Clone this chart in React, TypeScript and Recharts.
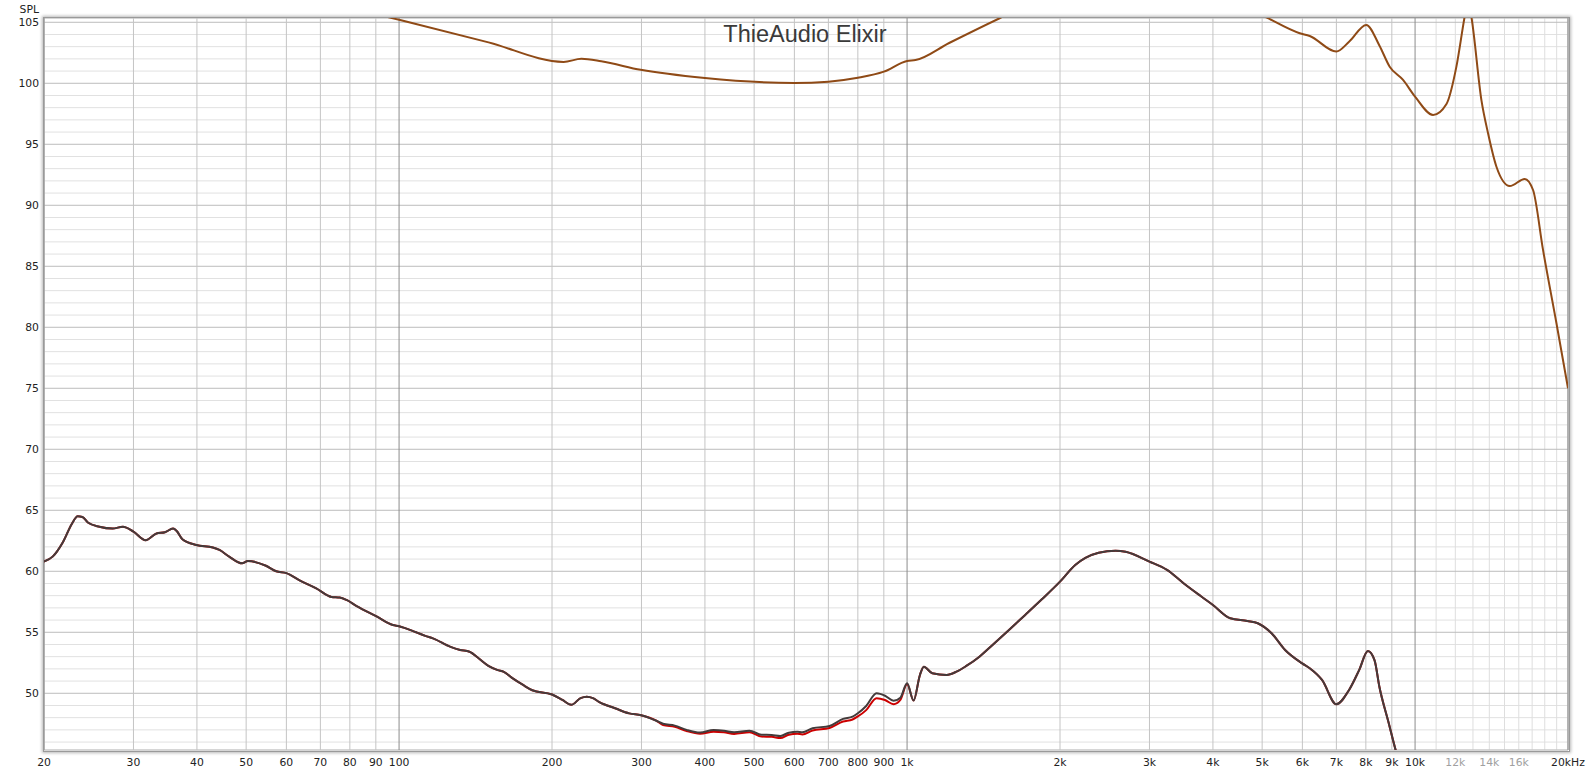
import React from 'react';
import { LineChart, Line, XAxis, YAxis, CartesianGrid } from 'recharts';

// ---- Measured response (dark) and second channel (red) ----
const measFreq = [
  20, 20.8, 21.8, 22.7, 23.3, 23.8, 24.4, 25.7, 27.3, 28.6,
  30, 31.7, 33.3, 34.6, 35.9, 36.5, 37.5, 39.9, 43, 44.3,
  46.3, 49.1, 50.4, 54.7, 57.3, 60, 63.7, 68.7, 73.6, 76.4,
  78.8, 82.5, 90.3, 97.2, 100, 108, 112.6, 116.6, 126.3, 131.9,
  137.6, 143.6, 149.9, 156.4, 160.8, 167.7, 175.1, 182.9, 200, 209.7,
  218.2, 227.6, 234.2, 240.8, 247.4, 267, 283.8, 299.5, 320.9, 330.8,
  348.9, 368.2, 391.4, 416, 436, 456.6, 489.5, 516.9, 541.5, 562.8,
  585, 608, 622, 651.5, 703.5, 748, 781, 800, 830.8, 870.5,
  904.8, 940.6, 970, 1000, 1030, 1060, 1079, 1121, 1196, 1251,
  1308, 1388, 1473, 1587, 1708, 1842, 2000, 2143, 2244, 2383,
  2572, 2692, 3000, 3248, 3506, 3784, 4000, 4327, 4676, 4901,
  5218, 5548, 5995, 6203, 6559, 7000, 7414, 7760, 8075, 8323,
  8506, 8860, 9156, 9600, 10500,
];

const darkSpl = [
  60.8, 61.2, 62.4, 63.9, 64.5, 64.45, 64.0, 63.65, 63.5, 63.65,
  63.25, 62.55, 63.1, 63.2, 63.5, 63.3, 62.6, 62.15, 61.95, 61.75,
  61.2, 60.65, 60.85, 60.45, 60.0, 59.85, 59.25, 58.6, 57.9, 57.85,
  57.65, 57.15, 56.3, 55.6, 55.5, 55.0, 54.7, 54.5, 53.8, 53.55,
  53.4, 52.85, 52.25, 51.9, 51.75, 51.2, 50.7, 50.25, 49.9, 49.45,
  49.05, 49.6, 49.72, 49.6, 49.3, 48.75, 48.35, 48.2, 47.75, 47.5,
  47.35, 47.0, 46.78, 46.98, 46.93, 46.8, 46.93, 46.6, 46.58, 46.5,
  46.77, 46.85, 46.8, 47.13, 47.32, 47.9, 48.08, 48.36, 48.96, 50.0,
  49.8, 49.39, 49.64, 50.82, 49.4, 51.5, 52.18, 51.64, 51.5, 51.77,
  52.24, 53.0, 53.96, 55.19, 56.42, 57.7, 59.15, 60.52, 61.1, 61.52,
  61.69, 61.6, 60.79, 60.11, 59.0, 57.97, 57.24, 56.15, 55.93, 55.74,
  54.92, 53.55, 52.45, 52.05, 51.09, 49.1, 50.27, 51.9, 53.47, 52.7,
  50.54, 47.67, 45.35, 42.5, 38,
];

const redSpl = [
  60.8, 61.2, 62.4, 63.9, 64.5, 64.45, 64.0, 63.65, 63.5, 63.65,
  63.25, 62.55, 63.1, 63.2, 63.5, 63.3, 62.6, 62.15, 61.95, 61.75,
  61.2, 60.65, 60.85, 60.45, 60.0, 59.85, 59.25, 58.6, 57.9, 57.85,
  57.65, 57.15, 56.3, 55.6, 55.5, 55.0, 54.7, 54.5, 53.8, 53.55,
  53.4, 52.85, 52.25, 51.9, 51.75, 51.2, 50.7, 50.25, 49.9, 49.45,
  49.05, 49.6, 49.72, 49.6, 49.3, 48.75, 48.35, 48.2, 47.75, 47.4,
  47.25, 46.9, 46.68, 46.85, 46.8, 46.67, 46.8, 46.45, 46.43, 46.33,
  46.6, 46.68, 46.63, 46.95, 47.15, 47.68, 47.85, 48.1, 48.62, 49.6,
  49.45, 49.1, 49.45, 50.75, 49.4, 51.5, 52.18, 51.64, 51.5, 51.77,
  52.24, 53.0, 53.96, 55.19, 56.42, 57.7, 59.15, 60.52, 61.1, 61.52,
  61.69, 61.6, 60.79, 60.11, 59.0, 57.97, 57.24, 56.15, 55.93, 55.74,
  54.92, 53.55, 52.45, 52.05, 51.09, 49.1, 50.27, 51.9, 53.47, 52.7,
  50.54, 47.67, 45.35, 42.5, 38,
];

// ---- Brown (upper) curve ----
const targetFreq = [
  20, 50, 100, 150, 210.8, 228.5, 250, 299, 400, 600,
  700, 800, 900, 1000, 1039, 1210, 1521, 2000, 3000, 4000,
  5096, 5928, 6203, 6998, 7414, 8016, 8506, 8913, 9469, 10000,
  10850, 11530, 12060, 12525, 12700, 12900, 13510, 13920, 14460, 15360,
  16440, 17070, 17860, 18980, 20000,
];
const targetSpl = [
  112.5, 108.3, 105.2, 103.35, 101.75, 102.0, 101.8, 101.1, 100.43, 100.02,
  100.13, 100.45, 100.95, 101.83, 101.9, 103.3, 105.33, 107.6, 109, 107.6,
  105.4, 104.1, 103.88, 102.6, 103.4, 104.78, 103.1, 101.36, 100.27, 98.9,
  97.4, 98.3, 101.36, 105.5, 106.8, 105.5, 98.6, 95.9, 93.16, 91.58,
  92.16, 91.25, 86.34, 80.33, 75.0,
];

// ---- Axes / grid ----
const xTickValues = [
  20, 30, 40, 50, 60, 70, 80, 90, 100, 200, 300, 400, 500, 600, 700, 800, 900,
  1000, 2000, 3000, 4000, 5000, 6000, 7000, 8000, 9000, 10000, 12000, 14000, 16000, 20000,
];
const xTickLabels = [
  '20', '30', '40', '50', '60', '70', '80', '90', '100', '200', '300', '400', '500', '600', '700', '800', '900',
  '1k', '2k', '3k', '4k', '5k', '6k', '7k', '8k', '9k', '10k', '12k', '14k', '16k', '20kHz',
];
const xFadedLabels = ['12k', '14k', '16k'];
const gridMinorX = [
  30, 40, 50, 60, 70, 80, 90, 200, 300, 400, 500, 600, 700, 800, 900,
  2000, 3000, 4000, 5000, 6000, 7000, 8000, 9000,
];
const gridDecadeX = [100, 1000, 10000];
const gridFineX = [11000, 12000, 13000, 14000, 15000, 16000, 17000, 18000, 19000];
const yTickValues = [50, 55, 60, 65, 70, 75, 80, 85, 90, 95, 100, 105];
const gridMinorY = [
  46, 47, 48, 49, 51, 52, 53, 54, 56, 57, 58, 59, 61, 62, 63, 64, 66, 67, 68, 69,
  71, 72, 73, 74, 76, 77, 78, 79, 81, 82, 83, 84, 86, 87, 88, 89, 91, 92, 93, 94,
  96, 97, 98, 99, 101, 102, 103, 104,
];

const X_DOMAIN: [number, number] = [20, 20000];
const Y_DOMAIN: [number, number] = [45.35, 105.35];

const darkData = measFreq.map((f, i) => ({ f, v: darkSpl[i] }));
const redData = measFreq.map((f, i) => ({ f, v: redSpl[i] }));
const targetData = targetFreq.map((f, i) => ({ f, v: targetSpl[i] }));

const TITLE_FONT = '"Liberation Sans", Arial, sans-serif';
const TICK_FONT = '"DejaVu Sans", Verdana, sans-serif';
const LABEL_BASELINE = 765.5;

const XTick = (props: any) => {
  const { x, payload } = props;
  const idx = xTickValues.indexOf(payload.value);
  const label = idx >= 0 ? xTickLabels[idx] : String(payload.value);
  const faded = xFadedLabels.includes(label);
  return (
    <text x={x} y={LABEL_BASELINE} textAnchor="middle" fontFamily={TICK_FONT} fontSize={10.8} fill={faded ? '#a0a0a0' : '#222'}>
      {label}
    </text>
  );
};

const YTick = (props: any) => {
  const { y, payload } = props;
  return (
    <text x={39} y={y} dy={4} textAnchor="end" fontFamily={TICK_FONT} fontSize={10.8} fill="#222">
      {payload.value}
    </text>
  );
};

export default function App() {
  return (
    <div style={{ position: 'absolute', left: 0, top: 0, width: 1590, height: 775, background: '#fff' }}>
      <LineChart
        width={1590}
        height={775}
        margin={{ top: 18, right: 22, bottom: 0, left: 0 }}
      >
        <XAxis
          xAxisId={0}
          dataKey="f"
          type="number"
          scale="log"
          domain={X_DOMAIN}
          allowDataOverflow
          ticks={xTickValues}
          interval={0}
          axisLine={false}
          tickLine={false}
          height={25}
          tick={<XTick />}
        />
        <XAxis xAxisId={1} orientation="top" dataKey="f" type="number" scale="log" domain={X_DOMAIN} allowDataOverflow ticks={gridMinorX} interval={0} hide />
        <XAxis xAxisId={2} orientation="top" dataKey="f" type="number" scale="log" domain={X_DOMAIN} allowDataOverflow ticks={gridDecadeX} interval={0} hide />
        <XAxis xAxisId={3} orientation="top" dataKey="f" type="number" scale="log" domain={X_DOMAIN} allowDataOverflow ticks={gridFineX} interval={0} hide />
        <YAxis
          yAxisId={0}
          type="number"
          domain={Y_DOMAIN}
          allowDataOverflow
          ticks={yTickValues}
          interval={0}
          axisLine={false}
          tickLine={false}
          width={44}
          tick={<YTick />}
        />
        <YAxis yAxisId={1} orientation="right" type="number" domain={Y_DOMAIN} allowDataOverflow ticks={gridMinorY} interval={0} hide />

        <CartesianGrid xAxisId={0} yAxisId={1} vertical={false} stroke="#e1e1e1" strokeWidth={1} />
        <CartesianGrid xAxisId={3} yAxisId={0} horizontal={false} stroke="#dedede" strokeWidth={1} />
        <CartesianGrid xAxisId={0} yAxisId={0} vertical={false} stroke="#bcbcbc" strokeWidth={1} />
        <CartesianGrid xAxisId={1} yAxisId={0} horizontal={false} stroke="#c4c4c4" strokeWidth={1} />
        <CartesianGrid xAxisId={2} yAxisId={0} horizontal={false} stroke="#8c8c8c" strokeWidth={1} />

        <Line
          xAxisId={0}
          yAxisId={0}
          data={targetData}
          dataKey="v"
          type="monotone"
          stroke="#8f4a16"
          strokeWidth={2}
          dot={false}
          activeDot={false}
          isAnimationActive={false}
        />
        <Line
          xAxisId={0}
          yAxisId={0}
          data={redData}
          dataKey="v"
          type="monotone"
          stroke="#cc0000"
          strokeWidth={2}
          dot={false}
          activeDot={false}
          isAnimationActive={false}
        />
        <Line
          xAxisId={0}
          yAxisId={0}
          data={darkData}
          dataKey="v"
          type="monotone"
          stroke="#433b3b"
          strokeWidth={2}
          dot={false}
          activeDot={false}
          isAnimationActive={false}
        />
      </LineChart>

      {/* plot frame */}
      <div
        style={{
          position: 'absolute',
          left: 43,
          top: 17,
          width: 1527,
          height: 735,
          boxSizing: 'border-box',
          border: '1px solid #9a9a9a',
          boxShadow: '0 0 3px 1px rgba(0,0,0,0.28)',
          pointerEvents: 'none',
        }}
      />

      <svg
        width={1590}
        height={775}
        style={{ position: 'absolute', left: 0, top: 0, pointerEvents: 'none' }}
      >
        <text x={805} y={42} textAnchor="middle" fontFamily={TITLE_FONT} fontSize={23.5} fill="#3a3a3a">
          ThieAudio Elixir
        </text>
        <text x={39} y={12.5} textAnchor="end" fontFamily={TICK_FONT} fontSize={10.8} fill="#222">
          SPL
        </text>
      </svg>
    </div>
  );
}
